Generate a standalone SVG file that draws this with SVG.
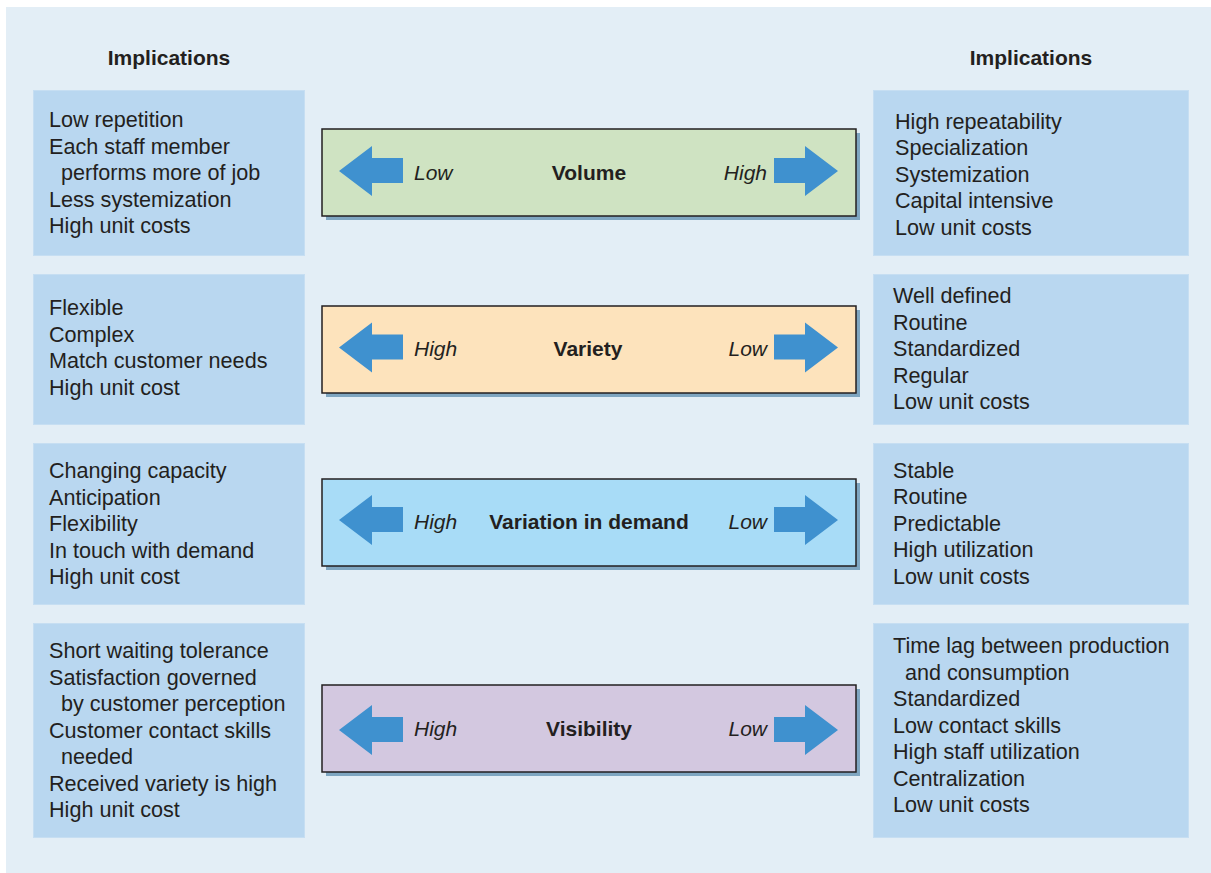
<svg xmlns="http://www.w3.org/2000/svg" width="1211" height="873" viewBox="0 0 1211 873">
  <style>
    text { font-family: "Liberation Sans", Arial, Helvetica, sans-serif; fill: #231f20; font-size: 21.6px; }
    .title { font-weight: bold; text-anchor: middle; font-size: 21px; }
    .dim { font-weight: bold; text-anchor: middle; font-size: 21px; }
    .end { font-style: italic; font-size: 21px; }
    .endR { font-style: italic; text-anchor: end; font-size: 21px; }
    .panel { fill: #b9d7f0; stroke: #c6def2; stroke-width: 1; }
    .scale { stroke: #231f20; stroke-width: 1.5; }
    .shadow { fill: #7fa6c1; }
    .arrow { fill: #3f91cf; }
  </style>
  <defs>
    <path id="arrowL" class="arrow" d="M339,0 L372,-25 L372,-13 L403,-13 L403,12 L372,12 L372,25 Z"/>
    <path id="arrowR" class="arrow" d="M838,0 L805,-25 L805,-13 L774,-13 L774,12 L805,12 L805,25 Z"/>
  </defs>

  <!-- backdrop -->
  <rect x="0" y="0" width="1211" height="873" fill="#ffffff"/>
  <rect x="6" y="7" width="1205" height="866" fill="#e3eef6"/>

  <!-- column headings -->
  <text class="title" x="169" y="65">Implications</text>
  <text class="title" x="1031" y="65">Implications</text>

  <!-- Volume -->
  <g id="volume-low">
    <rect class="panel" x="33.5" y="90.5" width="271" height="165"/>
    <text x="49" y="127">Low repetition</text>
    <text x="49" y="153.5">Each staff member</text>
    <text x="61" y="180">performs more of job</text>
    <text x="49" y="206.5">Less systemization</text>
    <text x="49" y="233">High unit costs</text>
  </g>
  <g id="volume">
    <rect class="shadow" x="326" y="133" width="534" height="87"/>
    <rect class="scale" x="322" y="129" width="534" height="87" fill="#cfe3c2"/>
    <use href="#arrowL" y="171"/>
    <use href="#arrowR" y="171"/>
    <text class="end" x="414" y="179.5">Low</text>
    <text class="dim" x="589" y="179.5">Volume</text>
    <text class="endR" x="767" y="179.5">High</text>
  </g>
  <g id="volume-high">
    <rect class="panel" x="873.5" y="90.5" width="315" height="165"/>
    <text x="895" y="128.5">High repeatability</text>
    <text x="895" y="155">Specialization</text>
    <text x="895" y="181.5">Systemization</text>
    <text x="895" y="208">Capital intensive</text>
    <text x="895" y="234.5">Low unit costs</text>
  </g>

  <!-- Variety -->
  <g id="variety-high">
    <rect class="panel" x="33.5" y="274.5" width="271" height="150"/>
    <text x="49" y="315">Flexible</text>
    <text x="49" y="341.5">Complex</text>
    <text x="49" y="368">Match customer needs</text>
    <text x="49" y="394.5">High unit cost</text>
  </g>
  <g id="variety">
    <rect class="shadow" x="326" y="310" width="534" height="87"/>
    <rect class="scale" x="322" y="306" width="534" height="87" fill="#fde3bc"/>
    <use href="#arrowL" y="347.5"/>
    <use href="#arrowR" y="347.5"/>
    <text class="end" x="414" y="356">High</text>
    <text class="dim" x="588" y="356">Variety</text>
    <text class="endR" x="767" y="356">Low</text>
  </g>
  <g id="variety-low">
    <rect class="panel" x="873.5" y="274.5" width="315" height="150"/>
    <text x="893" y="302.5">Well defined</text>
    <text x="893" y="329.5">Routine</text>
    <text x="893" y="356">Standardized</text>
    <text x="893" y="382.5">Regular</text>
    <text x="893" y="409">Low unit costs</text>
  </g>

  <!-- Variation in demand -->
  <g id="variation-high">
    <rect class="panel" x="33.5" y="443.5" width="271" height="161"/>
    <text x="49" y="478">Changing capacity</text>
    <text x="49" y="504.5">Anticipation</text>
    <text x="49" y="531">Flexibility</text>
    <text x="49" y="557.5">In touch with demand</text>
    <text x="49" y="584">High unit cost</text>
  </g>
  <g id="variation">
    <rect class="shadow" x="326" y="483" width="534" height="87"/>
    <rect class="scale" x="322" y="479" width="534" height="87" fill="#a8dcf7"/>
    <use href="#arrowL" y="520"/>
    <use href="#arrowR" y="520"/>
    <text class="end" x="414" y="528.5">High</text>
    <text class="dim" x="589" y="528.5">Variation in demand</text>
    <text class="endR" x="767" y="528.5">Low</text>
  </g>
  <g id="variation-low">
    <rect class="panel" x="873.5" y="443.5" width="315" height="161"/>
    <text x="893" y="477.5">Stable</text>
    <text x="893" y="504">Routine</text>
    <text x="893" y="530.5">Predictable</text>
    <text x="893" y="557">High utilization</text>
    <text x="893" y="583.5">Low unit costs</text>
  </g>

  <!-- Visibility -->
  <g id="visibility-high">
    <rect class="panel" x="33.5" y="623.5" width="271" height="214"/>
    <text x="49" y="658">Short waiting tolerance</text>
    <text x="49" y="684.5">Satisfaction governed</text>
    <text x="61" y="711">by customer perception</text>
    <text x="49" y="737.5">Customer contact skills</text>
    <text x="61" y="764">needed</text>
    <text x="49" y="790.5">Received variety is high</text>
    <text x="49" y="817">High unit cost</text>
  </g>
  <g id="visibility">
    <rect class="shadow" x="326" y="689" width="534" height="87"/>
    <rect class="scale" x="322" y="685" width="534" height="87" fill="#d3c8e0"/>
    <use href="#arrowL" y="730"/>
    <use href="#arrowR" y="730"/>
    <text class="end" x="414" y="735.5">High</text>
    <text class="dim" x="589" y="735.5">Visibility</text>
    <text class="endR" x="767" y="735.5">Low</text>
  </g>
  <g id="visibility-low">
    <rect class="panel" x="873.5" y="623.5" width="315" height="214"/>
    <text x="893" y="653">Time lag between production</text>
    <text x="905" y="679.5">and consumption</text>
    <text x="893" y="706">Standardized</text>
    <text x="893" y="732.5">Low contact skills</text>
    <text x="893" y="759">High staff utilization</text>
    <text x="893" y="785.5">Centralization</text>
    <text x="893" y="812">Low unit costs</text>
  </g>

  <g id="connectors"/>
</svg>
